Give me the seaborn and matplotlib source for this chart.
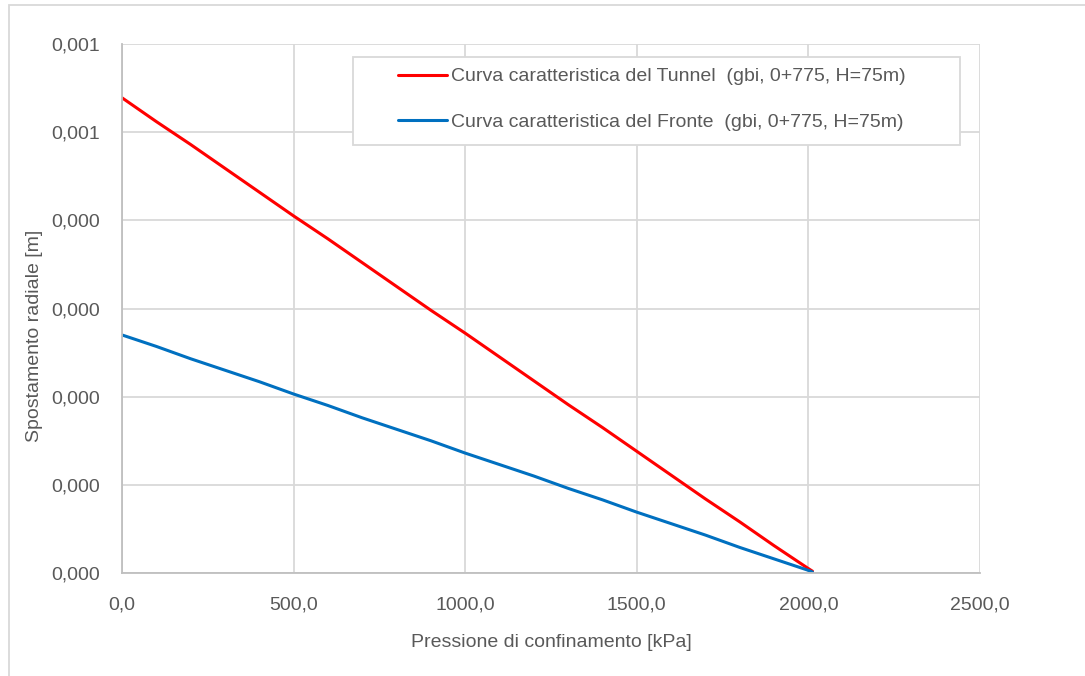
import matplotlib
matplotlib.use("Agg")
import matplotlib.pyplot as plt
from matplotlib.patches import Rectangle
from matplotlib.ticker import FixedLocator, FuncFormatter
from decimal import Decimal, ROUND_HALF_UP
import numpy as np
import pandas as pd
import seaborn as sns

# Confining pressure [kPa]
pressione = [0, 100, 200, 300, 400, 500, 600, 700, 800, 900, 1000,
             1100, 1200, 1300, 1400, 1500, 1600, 1700, 1800, 1900, 2000, 2012]

# Radial displacement [m] - tunnel characteristic curve
spost_tunnel = [0.000539, 0.000512, 0.000486, 0.000459, 0.000432, 0.000405,
                0.000379, 0.000352, 0.000325, 0.000298, 0.000272, 0.000245,
                0.000218, 0.000191, 0.000165, 0.000138, 0.000111, 0.000084,
                0.000058, 0.000031, 0.000005, 0.000002]

# Radial displacement [m] - face characteristic curve
spost_fronte = [0.000270, 0.000257, 0.000243, 0.000230, 0.000217, 0.000203,
                0.000190, 0.000176, 0.000163, 0.000150, 0.000136, 0.000123,
                0.000110, 0.000096, 0.000083, 0.000069, 0.000056, 0.000043,
                0.000029, 0.000016, 0.000003, 0.000001]

label_tunnel = "Curva caratteristica del Tunnel  (gbi, 0+775, H=75m)"
label_fronte = "Curva caratteristica del Fronte  (gbi, 0+775, H=75m)"

x_ticks = [0, 500, 1000, 1500, 2000, 2500]
y_ticks = [0.0, 0.0001, 0.0002, 0.0003, 0.0004, 0.0005, 0.0006]

df = pd.concat([
    pd.DataFrame({"p": pressione, "u": spost_tunnel, "serie": label_tunnel}),
    pd.DataFrame({"p": pressione, "u": spost_fronte, "serie": label_fronte}),
], ignore_index=True)

sns.set_theme(style="whitegrid")
plt.rcParams["font.family"] = ["Liberation Sans", "DejaVu Sans"]

text_col = "#595959"
grid_col = "#d9d9d9"
W, H = 1085, 676
fs = 14

fig = plt.figure(figsize=(W / 100, H / 100), dpi=100)
ax = fig.add_axes([122 / W, 1 - 573 / H, (980 - 122) / W, (573 - 44) / H])

palette = {label_tunnel: "#ff0000", label_fronte: "#0070c0"}
sns.lineplot(data=df, x="p", y="u", hue="serie", palette=palette,
             sort=False, estimator=None, linewidth=2.2, ax=ax, legend=False)

ax.set_xlim(0, 2500)
ax.set_ylim(0, 0.0006)
ax.xaxis.set_major_locator(FixedLocator(x_ticks))
ax.yaxis.set_major_locator(FixedLocator(y_ticks))


def fmt_y(v, pos):
    d = Decimal(f"{float(v):.8f}").quantize(Decimal("0.001"), rounding=ROUND_HALF_UP)
    return f"{d:.3f}".replace(".", ",")


def fmt_x(v, pos):
    return f"{v:.1f}".replace(".", ",")


ax.yaxis.set_major_formatter(FuncFormatter(fmt_y))
ax.xaxis.set_major_formatter(FuncFormatter(fmt_x))

ax.set_facecolor("white")
ax.grid(True, color=grid_col, linewidth=1.3)
for side in ("top", "right"):
    ax.spines[side].set_visible(False)
for side in ("left", "bottom"):
    ax.spines[side].set_color("#bfbfbf")
    ax.spines[side].set_linewidth(1.3)

ax.tick_params(axis="both", length=0, labelsize=fs, labelcolor=text_col)
ax.tick_params(axis="y", pad=16)
ax.tick_params(axis="x", pad=17)

ax.set_xlabel("Pressione di confinamento [kPa]", fontsize=fs, color=text_col, labelpad=15)
ax.set_ylabel("Spostamento radiale [m]", fontsize=fs, color=text_col)
ax.yaxis.set_label_coords((43 - 122) / 858, (573 - 336) / 529)

# legend frame
fig.patches.append(Rectangle((353 / W, 1 - 145 / H), (960 - 353) / W, 88 / H,
                             transform=fig.transFigure, facecolor="white",
                             edgecolor=grid_col, linewidth=1.3, zorder=5))

handles = [plt.Line2D([], [], color="#ff0000", linewidth=2.2),
           plt.Line2D([], [], color="#0070c0", linewidth=2.2)]
leg = fig.legend(handles, [label_tunnel, label_fronte], loc="center left",
                 bbox_to_anchor=(398 / W, 1 - 99.5 / H),
                 fontsize=fs, frameon=False, labelspacing=1.45, handlelength=2.5,
                 handletextpad=0.25, borderpad=0, borderaxespad=0)
leg.set_zorder(6)
for t in leg.get_texts():
    t.set_color(text_col)

# outer chart border
fig.patches.append(Rectangle((8.5 / W, -0.1), 1.2, 1.1 - 5.5 / H,
                             transform=fig.transFigure, fill=False,
                             edgecolor=grid_col, linewidth=1.3))

fig.savefig("out.png", dpi=100, facecolor="white")
